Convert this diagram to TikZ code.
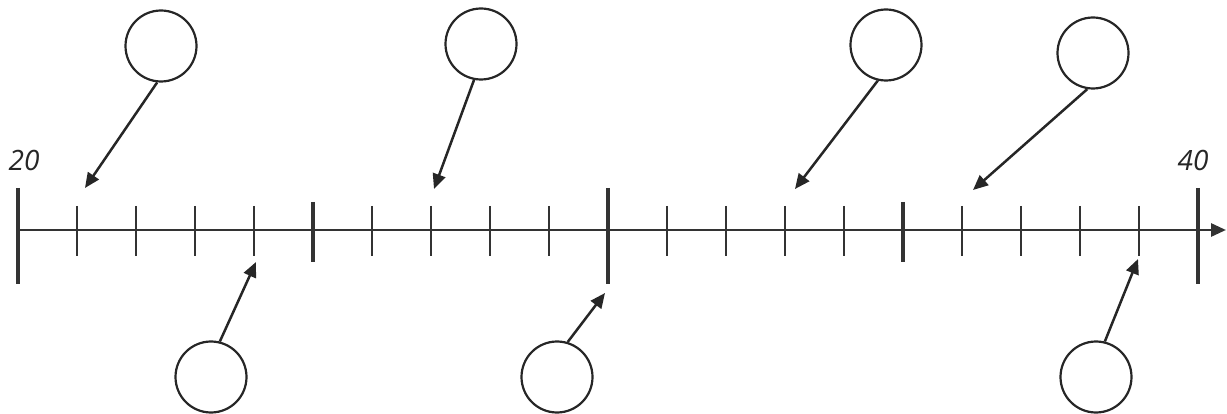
\documentclass[tikz,border=0pt]{standalone}
\usepackage{fontspec}
\setmainfont{Open Sans}
\usetikzlibrary{arrows.meta}
\tikzset{
  bubble/.style={circle, draw=black!85, line width=2.2pt, minimum size=71pt, inner sep=0pt},
  pointer/.style={draw=black!85, line width=2.5pt, -{Triangle[length=15pt,width=13pt]}},
  axisline/.style={draw=black!80, line width=2.8pt, -{Triangle[length=15pt,width=13pt]}},
  minortick/.style={draw=black!80, line width=2.1pt},
  midtick/.style={draw=black!80, line width=3.8pt},
  endtick/.style={draw=black!80, line width=4.2pt},
  numlabel/.style={font=\fontsize{28}{30}\selectfont\itshape, text=black!85, inner sep=0pt}
}
\begin{document}
\begin{tikzpicture}[x=1pt,y=-1pt]
\useasboundingbox (0,0) rectangle (1227,414);
% axis
\coordinate (a0) at (18,230);
\coordinate (a1) at (1226,230);
\draw[axisline] (a0) -- (a1);
% minor ticks
\foreach \i in {1,2,3,4,6,7,8,9,11,12,13,14,16,17,18,19}{
  \draw[minortick] ({18+59*\i},206) -- ({18+59*\i},256);
}
% quarter ticks
\foreach \i in {5,15}{
  \draw[midtick] ({18+59*\i},202) -- ({18+59*\i},262);
}
% long ticks
\foreach \i in {0,10,20}{
  \draw[endtick] ({18+59*\i},188) -- ({18+59*\i},284);
}
% labels
\node[numlabel] (l20) at (24,160) {20};
\node[numlabel] (l40) at (1193,160) {40};
% bubbles
\node[bubble] (c1) at (161,46) {};
\node[bubble] (c2) at (481,44) {};
\node[bubble] (c3) at (886,45) {};
\node[bubble] (c4) at (1093,53) {};
\node[bubble] (d1) at (211,377) {};
\node[bubble] (d2) at (557,377) {};
\node[bubble] (d3) at (1096,377) {};
% targets
\coordinate (t1) at (85,188);
\coordinate (t2) at (434,189);
\coordinate (t3) at (795,189);
\coordinate (t4) at (973,190);
\coordinate (u1) at (256,262);
\coordinate (u2) at (605,293);
\coordinate (u3) at (1138,259);
% pointers
\draw[pointer] (c1.-96) -- (t1);
\draw[pointer] (c2.-101) -- (t2);
\draw[pointer] (c3.-103) -- (t3);
\draw[pointer] (c4.-99) -- (t4);
\draw[pointer] (d1.76) -- (u1);
\draw[pointer] (d2.73) -- (u2);
\draw[pointer] (d3.76) -- (u3);
\end{tikzpicture}
\end{document}
